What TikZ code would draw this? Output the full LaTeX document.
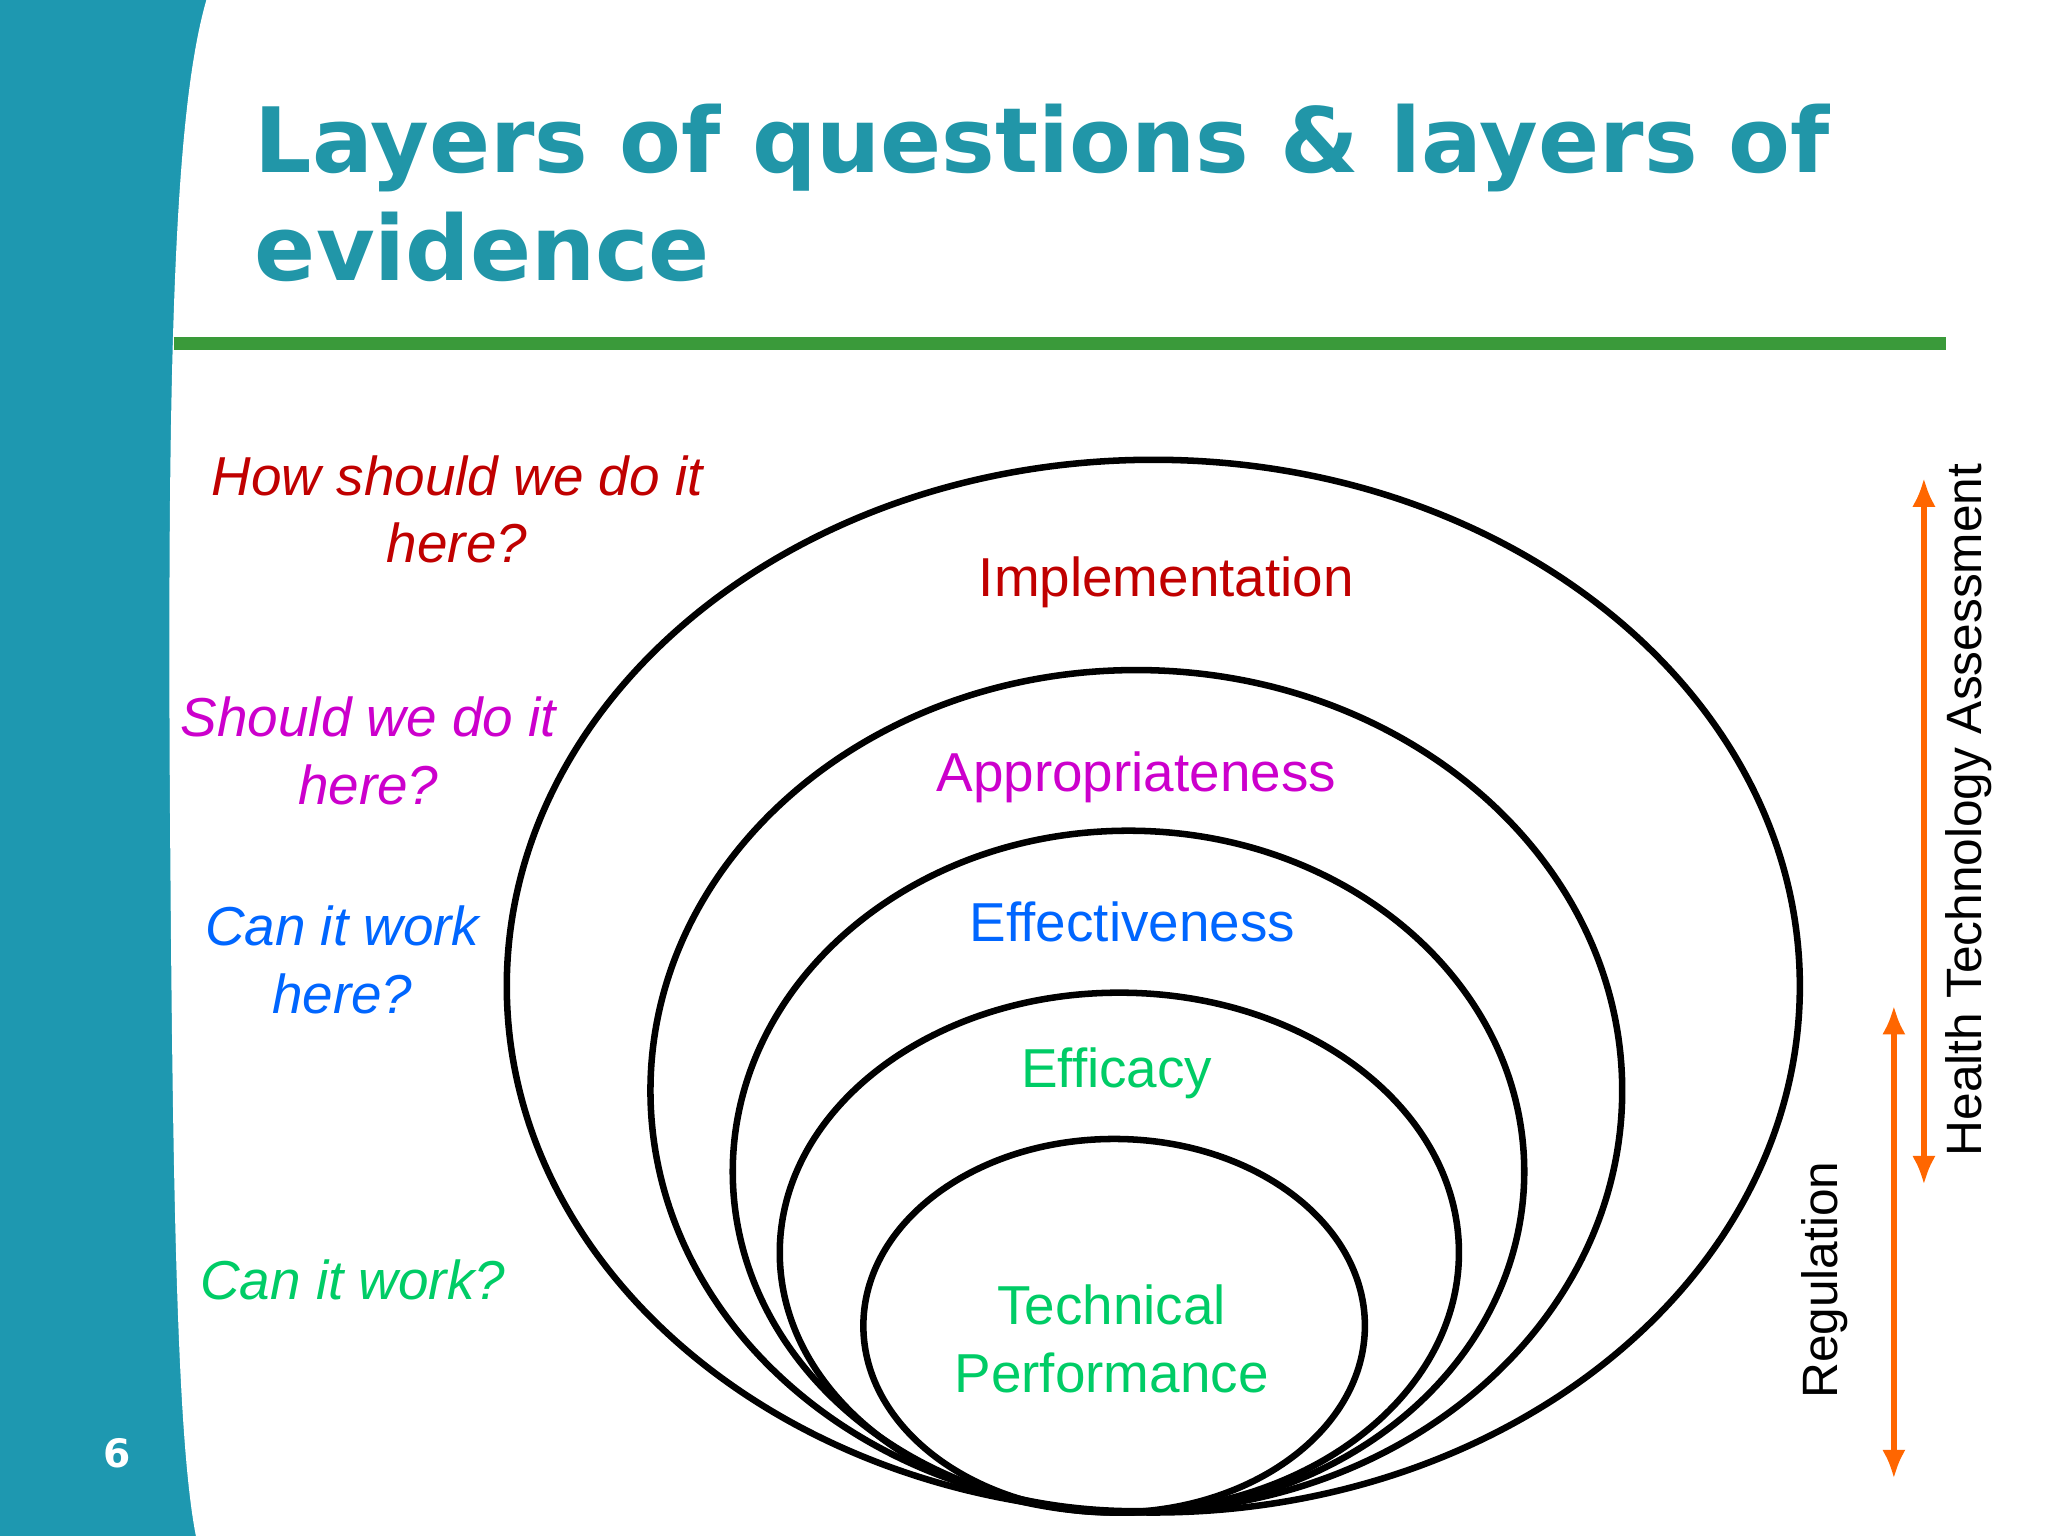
\documentclass[tikz,border=0pt]{standalone}
\usepackage{fontspec}
\usetikzlibrary{arrows.meta}
\setmainfont{Liberation Sans}
\newfontfamily\titlefont{DejaVu Sans}
\definecolor{teal1}{HTML}{1E98B0}
\definecolor{ttl}{HTML}{2196A8}
\definecolor{grn}{HTML}{3A9A3A}
\definecolor{cRed}{HTML}{C00000}
\definecolor{cMag}{HTML}{CC00CC}
\definecolor{cBlue}{HTML}{0066FF}
\definecolor{cGreen}{HTML}{00CC66}
\definecolor{cOrange}{HTML}{FF6600}
\begin{document}
\begin{tikzpicture}[x=1pt,y=-1pt,
  ring/.style={line width=5pt,draw=black},
  lbl/.style={font=\fontsize{42}{48}\selectfont,align=center,inner sep=0pt},
  qst/.style={font=\fontsize{42}{52}\selectfont\itshape,align=center,inner sep=0pt},
  orr/.style={line width=4pt,draw=cOrange,{Latex[length=22pt,width=18pt]}-{Latex[length=22pt,width=18pt]}}]
\useasboundingbox (0,0) rectangle (1568,1176);
\fill[teal1] (0,0) rectangle (1568,1176);
\fill[white] (158,0) .. controls (135,80) and (128,250) .. (130,600) .. controls (132,900) and (135,1100) .. (150,1176) -- (1568,1176) -- (1568,0) -- cycle;
\node[anchor=base west,inner sep=0pt,text=ttl,font=\titlefont\bfseries\fontsize{69}{80}\selectfont] (t1) at (195,132) {Layers of questions \& layers of};
\node[anchor=base west,inner sep=0pt,text=ttl,font=\titlefont\bfseries\fontsize{69}{80}\selectfont] (t2) at (195,215) {evidence};
\draw[grn,line width=10pt] (133,263) -- (1490,263);
\draw[ring] (883,755) ellipse [x radius=495,y radius=403];
\draw[ring] (870,835) ellipse [x radius=372,y radius=322];
\draw[ring] (864,897) ellipse [x radius=303,y radius=261];
\draw[ring] (857,959) ellipse [x radius=260,y radius=199];
\draw[ring] (853,1015) ellipse [x radius=192,y radius=143];
\node[lbl,text=cRed] (imp) at (893,446) {Implementation};
\node[lbl,text=cMag] (app) at (870,595) {Appropriateness};
\node[lbl,text=cBlue] (eff) at (867,706) {Effectiveness};
\node[lbl,text=cGreen] (efc) at (855,822) {Efficacy};
\node[lbl,text=cGreen,font=\fontsize{42}{52}\selectfont] (tp) at (851,1025) {Technical\\Performance};
\node[qst,text=cRed] (q1) at (350,390) {How should we do it\\here?};
\node[qst,text=cMag] (q2) at (282,575) {Should we do it\\here?};
\node[qst,text=cBlue] (q3) at (262,735) {Can it work\\here?};
\node[qst,text=cGreen] (q4) at (270,980) {Can it work?};
\coordinate (h1) at (1473,366);
\coordinate (h2) at (1473,907);
\coordinate (r1) at (1450,770);
\coordinate (r2) at (1450,1132);
\draw[orr] (h1) -- (h2);
\draw[orr] (r1) -- (r2);
\node[lbl,rotate=90,font=\fontsize{38}{44}\selectfont] (hta) at (1507,620) {Health Technology Assessment};
\node[lbl,rotate=90,font=\fontsize{38}{44}\selectfont] (reg) at (1397,980) {Regulation};
\node[text=white,font=\titlefont\bfseries\fontsize{30}{36}\selectfont] (pg) at (90,1113) {6};
\end{tikzpicture}
\end{document}
